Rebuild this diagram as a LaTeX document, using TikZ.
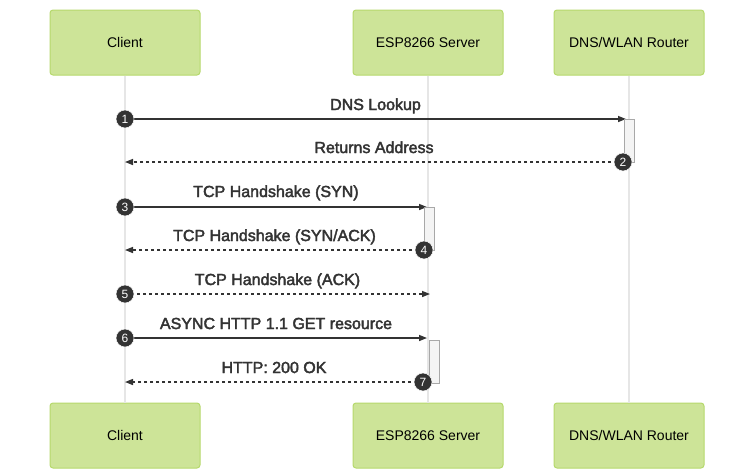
\documentclass[tikz,border=0pt]{standalone}
\usepackage{fontspec}
\setmainfont{Liberation Sans}
\newfontfamily\msgfont[FakeBold=2.5]{Liberation Sans}
\usetikzlibrary{arrows.meta}
\definecolor{actfill}{HTML}{CDE498}
\definecolor{actline}{HTML}{B6D96C}
\definecolor{ink}{HTML}{333333}
\definecolor{lifeln}{HTML}{E6E6E6}
\definecolor{actvfill}{HTML}{F4F4F4}
\definecolor{actvline}{HTML}{A8A8A8}
\tikzset{
  actor/.style={draw=actline, fill=actfill, line width=1pt, rounded corners=3pt,
    minimum width=150pt, minimum height=65pt, inner sep=0pt,
    font=\fontsize{14}{16}\selectfont, text=black},
  lifeline/.style={draw=lifeln, line width=1.6pt},
  msg/.style={draw=ink, line width=1.4pt, -{Triangle[length=8pt,width=6pt]}},
  reply/.style={msg, dash pattern=on 3pt off 3pt},
  activ/.style={draw=actvline, fill=actvfill, line width=1pt, minimum width=10pt,
    inner sep=0pt, anchor=north west},
  numb/.style={circle, fill=ink, draw=white, line width=0.5pt, minimum size=18pt, inner sep=0pt,
    text=white, font=\fontsize{12}{12}\selectfont},
  lbl/.style={anchor=base, text=ink, font=\msgfont\fontsize{16}{18}\selectfont, inner sep=0pt}
}
\begin{document}
\begin{tikzpicture}[x=1pt,y=-1pt]
\useasboundingbox (0,0) rectangle (754,469);
\fill[white] (0,0) rectangle (754,469);
% actors
\node[actor] (ct) at (125,42.5) {Client};
\node[actor] (et) at (428,42.5) {ESP8266 Server};
\node[actor] (rt) at (629,42.5) {DNS/WLAN Router};
\node[actor] (cb) at (125,435.5) {Client};
\node[actor] (eb) at (428,435.5) {ESP8266 Server};
\node[actor] (rb) at (629,435.5) {DNS/WLAN Router};
% lifelines
\draw[lifeline] (ct.south) -- (cb.north);
\draw[lifeline] (et.south) -- (eb.north);
\draw[lifeline] (rt.south) -- (rb.north);
% message end points
\coordinate (m1a) at (125,119); \coordinate (m1b) at (626,119);
\coordinate (m2a) at (623,162); \coordinate (m2b) at (125,162);
\coordinate (m3a) at (125,207); \coordinate (m3b) at (427,207);
\coordinate (m4a) at (424,250); \coordinate (m4b) at (125,250);
\coordinate (m5a) at (125,294); \coordinate (m5b) at (430,294);
\coordinate (m6a) at (125,338); \coordinate (m6b) at (427,338);
\coordinate (m7a) at (423,382); \coordinate (m7b) at (125,382);
% messages
\draw[msg] (m1a) -- (m1b) node[lbl, midway, yshift=9pt] {DNS Lookup};
\draw[reply] (m2a) -- (m2b) node[lbl, midway, yshift=9pt] {Returns Address};
\draw[msg] (m3a) -- (m3b) node[lbl, midway, yshift=10pt] {TCP Handshake (SYN)};
\draw[reply] (m4a) -- (m4b) node[lbl, midway, yshift=9pt] {TCP Handshake (SYN/ACK)};
\draw[reply] (m5a) -- (m5b) node[lbl, midway, yshift=9pt] {TCP Handshake (ACK)};
\draw[msg] (m6a) -- (m6b) node[lbl, midway, yshift=9pt] {ASYNC HTTP 1.1 GET resource};
\draw[reply] (m7a) -- (m7b) node[lbl, midway, yshift=9pt] {HTTP: 200 OK};
% activations
\node[activ, minimum height=43pt] (a1) at (624,119) {};
\node[activ, minimum height=43pt] (a2) at (424,207) {};
\node[activ, minimum height=43pt] (a3) at (429,340) {};
% numbers
\node[numb] (n1) at (m1a) {1};
\node[numb] (n2) at (m2a) {2};
\node[numb] (n3) at (m3a) {3};
\node[numb] (n4) at (m4a) {4};
\node[numb] (n5) at (m5a) {5};
\node[numb] (n6) at (m6a) {6};
\node[numb] (n7) at (m7a) {7};
\end{tikzpicture}
\end{document}
